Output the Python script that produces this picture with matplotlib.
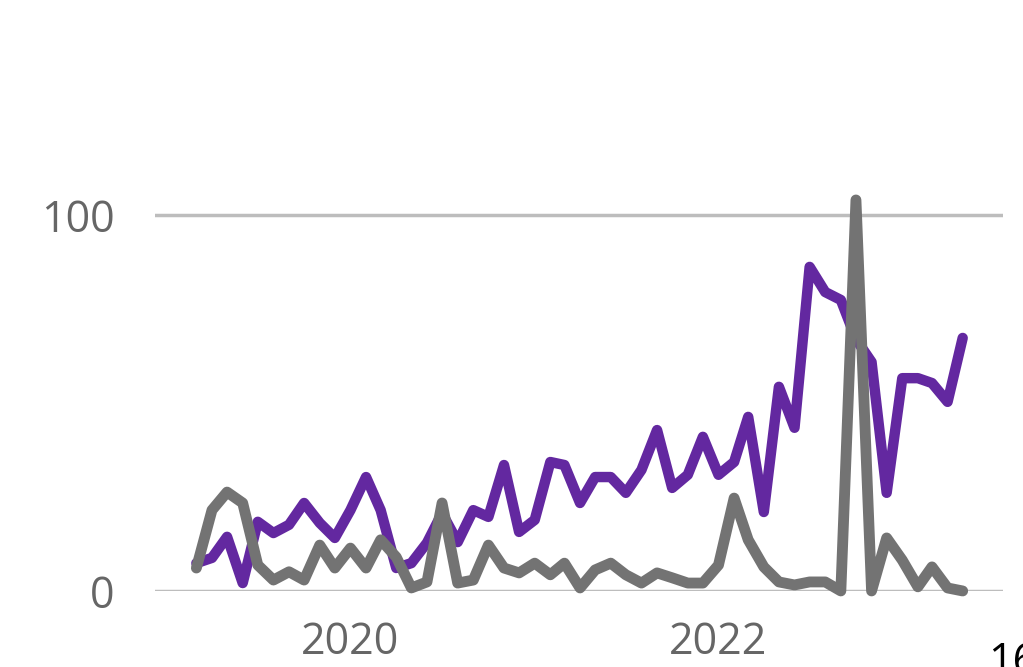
import numpy as np
import pandas as pd
import matplotlib
matplotlib.use("Agg")
import matplotlib.pyplot as plt
import matplotlib.dates as mdates

# monthly values, Mar 2019 .. May 2023
dates = pd.date_range("2019-03-01", periods=51, freq="MS")
purple_vals = [7.4, 8.8, 14.4, 2.1, 18.4, 15.4, 17.6, 23.4, 18.1, 14.1,
               21.5, 30.3, 21.5, 6.1, 7.4, 12.8, 20.7, 13.0, 21.5, 19.7,
               33.5, 15.7, 18.9, 34.3, 33.5, 23.4, 30.3, 30.3, 26.1, 32.2,
               42.8, 27.4, 30.9, 41.0, 30.9, 34.3, 46.3, 21.0, 54.3, 43.4,
               86.2, 79.5, 77.4, 67.0, 60.9, 26.1, 56.6, 56.6, 55.3, 50.3,
               67.3]
gray_vals = [6.1, 21.5, 26.3, 23.4, 6.9, 2.9, 5.1, 2.9, 12.2, 6.1,
             11.4, 6.1, 13.6, 9.0, 0.8, 2.4, 23.4, 2.1, 2.9, 12.2,
             6.1, 4.8, 7.4, 4.3, 7.4, 0.8, 5.6, 7.4, 4.3, 2.1,
             4.8, 3.5, 2.1, 2.1, 6.9, 24.7, 13.6, 6.4, 2.4, 1.6,
             2.4, 2.4, 0.0, 104.0, 0.0, 14.1, 8.2, 1.1, 6.4, 0.8,
             0.0]
tick_dates = pd.to_datetime(["2020-01-01", "2022-01-01"])
tick_labels = ["2020", "2022"]

plt.rcParams["font.family"] = ["Open Sans", "DejaVu Sans"]

fig = plt.figure(figsize=(10.23, 6.67), dpi=100)
ax = fig.add_axes([0.1515, 0.114, 0.8285, 0.8455])

ax.plot(dates, purple_vals, color="#6328A0", linewidth=7.5,
        solid_joinstyle="round", solid_capstyle="round", clip_on=False, zorder=3)
ax.plot(dates, gray_vals, color="#737373", linewidth=7.8,
        solid_joinstyle="round", solid_capstyle="round", clip_on=False, zorder=4)

# x range: about 2.7 months of padding each side
month = 30.44
x0 = mdates.date2num(dates[0]) - 2.7 * month
x1 = mdates.date2num(dates[-1]) + 2.6 * month
ax.set_xlim(x0, x1)
ax.set_ylim(0, 150)

ax.set_yticks([0, 100])
ax.set_yticklabels(["0", "100"])
ax.set_xticks(tick_dates)
ax.set_xticklabels(tick_labels)
ax.tick_params(axis="both", length=0, labelsize=31, labelcolor="#666666")
ax.tick_params(axis="y", pad=29)
ax.tick_params(axis="x", pad=21)

ax.grid(axis="y", color="#BDBDBD", linewidth=2.5)
ax.set_axisbelow(True)
for s in ax.spines.values():
    s.set_visible(False)

fig.text(0.966, -0.01, "16", fontsize=31, color="black", va="baseline", ha="left")

fig.savefig("out.png", dpi=100)
